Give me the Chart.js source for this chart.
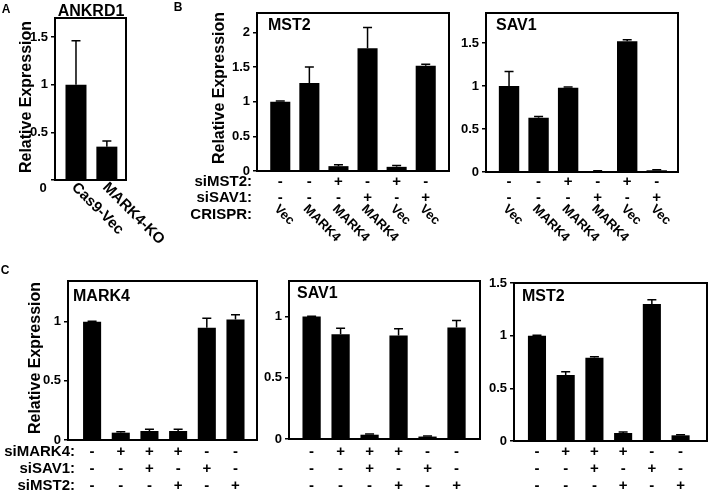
<!DOCTYPE html>
<html>
<head>
<meta charset="utf-8">
<script src="https://cdn.jsdelivr.net/npm/chart.js@4.4.1/dist/chart.umd.min.js"></script>
<style>
  body { margin: 0; background: #fff; }
  #wrap { position: relative; width: 709px; height: 494px; }
  #wrap canvas { position: absolute; left: 0; top: 0; }
</style>
</head>
<body>
<div id="wrap"></div>
<script>
// ---- data ----
// A: ANKRD1
const ankrdLabels = ['Cas9-Vec', 'MARK4-KO'];
const ankrdValues = [1.0, 0.35];
const ankrdSd = [0.46, 0.06];
const ankrdTicks = [0, 0.5, 1, 1.5];

// B: CRISPR lines + siRNA
const crisprLabels = ['Vec', 'MARK4', 'MARK4', 'MARK4', 'Vec', 'Vec'];
const bSiMST2 = ['-', '-', '+', '-', '+', '-'];
const bSiSAV1 = ['-', '-', '-', '+', '-', '+'];
const bMst2Values = [1.0, 1.27, 0.07, 1.77, 0.06, 1.52];
const bMst2Sd = [0.01, 0.23, 0.02, 0.30, 0.02, 0.02];
const bMst2Ticks = [0, 0.5, 1, 1.5, 2];
const bSav1Values = [1.0, 0.63, 0.98, 0.01, 1.52, 0.02];
const bSav1Sd = [0.17, 0.015, 0.01, 0.005, 0.02, 0.005];
const bSav1Ticks = [0, 0.5, 1, 1.5];

// C: siRNA combinations
const cSiMARK4 = ['-', '+', '+', '+', '-', '-'];
const cSiSAV1 = ['-', '-', '+', '-', '+', '-'];
const cSiMST2 = ['-', '-', '-', '+', '-', '+'];
const cMark4Values = [1.0, 0.062, 0.076, 0.076, 0.95, 1.02];
const cMark4Sd = [0.005, 0.008, 0.014, 0.014, 0.08, 0.04];
const cMark4Ticks = [0, 0.5, 1];
const cSav1Values = [1.0, 0.855, 0.035, 0.845, 0.02, 0.91];
const cSav1Sd = [0.003, 0.05, 0.005, 0.055, 0.004, 0.057];
const cSav1Ticks = [0, 0.5, 1];
const cMst2Values = [1.0, 0.626, 0.79, 0.076, 1.30, 0.054];
const cMst2Sd = [0.003, 0.032, 0.01, 0.01, 0.04, 0.006];
const cMst2Ticks = [0, 0.5, 1, 1.5];

const FONT = '"Liberation Sans", Arial, sans-serif';
const W = 709, H = 494;
const Y_AXIS_W = 40;

function drawText(ctx, t, x, y, size, align, angle) {
    ctx.save();
    ctx.translate(x, y);
    if (angle) ctx.rotate(angle * Math.PI / 180);
    ctx.font = 'bold ' + size + 'px ' + FONT;
    ctx.textAlign = align || 'center';
    ctx.textBaseline = 'middle';
    ctx.fillStyle = '#000';
    ctx.fillText(t, 0, 0);
    ctx.restore();
}

// error bars, frame and all the loose text round a panel
function extras(p) {
    return {
        id: 'extras',
        afterDatasetsDraw(chart) {
            const ctx = chart.ctx;
            const xs = chart.scales.x, ys = chart.scales.y;
            const a = chart.chartArea;
            ctx.save();
            ctx.strokeStyle = '#000';
            ctx.lineWidth = 1.5;
            p.values.forEach((v, i) => {
                const cx = xs.getPixelForValue(i);
                const yb = ys.getPixelForValue(v);
                const yt = ys.getPixelForValue(v + p.sd[i]);
                ctx.beginPath();
                ctx.moveTo(cx, yb);
                ctx.lineTo(cx, yt);
                ctx.moveTo(cx - 4.5, yt);
                ctx.lineTo(cx + 4.5, yt);
                ctx.stroke();
            });
            ctx.lineWidth = 2;
            ctx.strokeRect(a.left, a.top, a.right - a.left, a.bottom - a.top);
            ctx.restore();

            if (p.title) drawText(ctx, p.title[0], p.title[1], p.title[2], 16, p.title[3]);
            if (p.letter) drawText(ctx, p.letter[0], p.letter[1], p.letter[2], 12, 'center');
            if (p.yTitle) drawText(ctx, 'Relative Expression', p.yTitle[0], p.yTitle[1], 16, 'center', -90);
            if (p.zeroBelow) drawText(ctx, '0', p.zeroBelow[0], p.zeroBelow[1], 13, 'center');

            (p.rows || []).forEach(r => {
                if (r.name) drawText(ctx, r.name, p.rowNameX, r.y, 15, 'right');
                r.signs.forEach((s, i) => {
                    drawText(ctx, s, xs.getPixelForValue(i), r.y, 15, 'center');
                });
            });
            if (p.extraRowName) drawText(ctx, p.extraRowName[0], p.rowNameX, p.extraRowName[1], 15, 'right');
            if (p.rot) {
                p.rot.labels.forEach((t, i) => {
                    drawText(ctx, t, xs.getPixelForValue(i) + p.rot.dx, p.rot.y, p.rot.size, 'left', 45);
                });
            }
        }
    };
}

function makePanel(p) {
    const canvas = document.createElement('canvas');
    canvas.width = W;
    canvas.height = H;
    document.getElementById('wrap').appendChild(canvas);
    const [x0, y0, x1, y1] = p.box;

    return new Chart(canvas, {
        type: 'bar',
        data: {
            datasets: [{
                data: p.values.map((v, i) => ({ x: i, y: v })),
                backgroundColor: '#000',
                borderWidth: 0,
                barPercentage: p.barPct,
                categoryPercentage: 1
            }]
        },
        options: {
            responsive: false,
            animation: false,
            devicePixelRatio: 1,
            layout: { padding: { left: x0 - Y_AXIS_W, top: y0, right: W - x1, bottom: H - y1 } },
            plugins: { legend: { display: false }, tooltip: { enabled: false } },
            scales: {
                x: { type: 'linear', display: false, offset: false, min: p.xRange[0], max: p.xRange[1] },
                y: {
                    min: 0,
                    max: p.yMax,
                    afterFit: s => { s.width = Y_AXIS_W; },
                    afterBuildTicks: s => { s.ticks = p.ticks.map(v => ({ value: v })); },
                    ticks: {
                        color: '#000',
                        padding: 3,
                        font: { family: FONT, size: 13, weight: 'bold' },
                        callback: v => (p.zeroBelow && v === 0) ? '' : String(v)
                    },
                    grid: { drawOnChartArea: false, drawTicks: true, tickLength: 4, color: '#000', lineWidth: 1.5 },
                    border: { display: false }
                }
            }
        },
        plugins: [extras(p)]
    });
}

// A
makePanel({
    values: ankrdValues, sd: ankrdSd, ticks: ankrdTicks, yMax: 1.7,
    box: [55, 18, 126, 180], xRange: [-0.68, 1.62], barPct: 0.68,
    zeroBelow: [43, 188],
    title: ['ANKRD1', 91, 12, 'center'], letter: ['A', 6, 10], yTitle: [27, 97],
    rot: { labels: ankrdLabels, y: 185, dx: -2, size: 15 }
});

// B
makePanel({
    values: bMst2Values, sd: bMst2Sd, ticks: bMst2Ticks, yMax: 2.28,
    box: [257, 13, 449, 171], xRange: [-0.8, 5.8], barPct: 0.69,
    title: ['MST2', 268, 26, 'left'], letter: ['B', 178, 8], yTitle: [220, 88],
    rowNameX: 252,
    rows: [{ name: 'siMST2:', signs: bSiMST2, y: 182 }, { name: 'siSAV1:', signs: bSiSAV1, y: 198 }],
    extraRowName: ['CRISPR:', 215],
    rot: { labels: crisprLabels, y: 207, dx: -4, size: 13 }
});
makePanel({
    values: bSav1Values, sd: bSav1Sd, ticks: bSav1Ticks, yMax: 1.85,
    box: [486, 13, 678, 172], xRange: [-0.78, 5.72], barPct: 0.69,
    title: ['SAV1', 496, 26, 'left'],
    rows: [{ signs: bSiMST2, y: 182 }, { signs: bSiSAV1, y: 198 }],
    rot: { labels: crisprLabels, y: 207, dx: -4, size: 13 }
});

// C
makePanel({
    values: cMark4Values, sd: cMark4Sd, ticks: cMark4Ticks, yMax: 1.345,
    box: [68, 281, 257, 440], xRange: [-0.84, 5.75], barPct: 0.63,
    title: ['MARK4', 73, 297, 'left'], letter: ['C', 5, 271], yTitle: [36, 358],
    rowNameX: 75,
    rows: [
        { name: 'siMARK4:', signs: cSiMARK4, y: 452 },
        { name: 'siSAV1:', signs: cSiSAV1, y: 469 },
        { name: 'siMST2:', signs: cSiMST2, y: 486 }
    ]
});
makePanel({
    values: cSav1Values, sd: cSav1Sd, ticks: cSav1Ticks, yMax: 1.29,
    box: [289, 281, 480, 439], xRange: [-0.78, 5.81], barPct: 0.63,
    title: ['SAV1', 297, 294, 'left'],
    rows: [{ signs: cSiMARK4, y: 452 }, { signs: cSiSAV1, y: 469 }, { signs: cSiMST2, y: 486 }]
});
makePanel({
    values: cMst2Values, sd: cMst2Sd, ticks: cMst2Ticks, yMax: 1.5,
    box: [514, 283, 707, 441], xRange: [-0.8, 5.92], barPct: 0.63,
    title: ['MST2', 522, 297, 'left'],
    rows: [{ signs: cSiMARK4, y: 452 }, { signs: cSiSAV1, y: 469 }, { signs: cSiMST2, y: 486 }]
});
</script>
</body>
</html>
